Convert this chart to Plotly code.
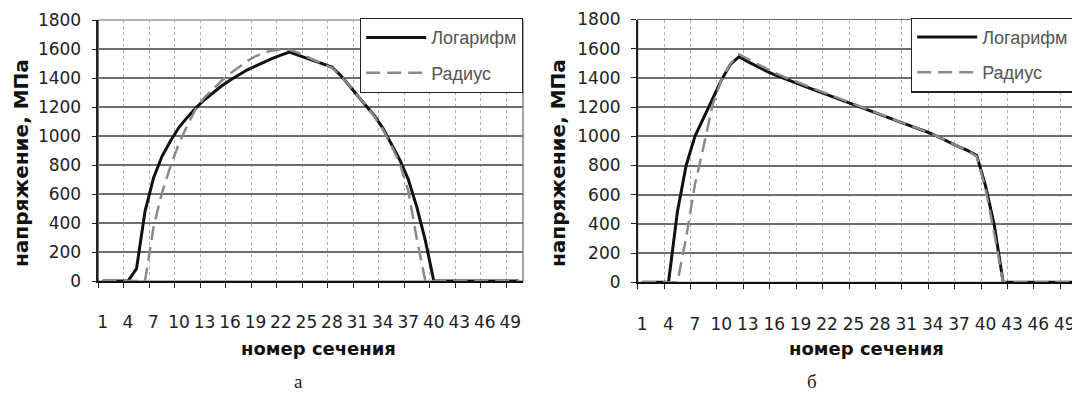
import plotly.graph_objects as go

# ---------------- data ----------------
categories = list(range(1, 51))
tick_categories = categories[::3]
tick_labels = [str(c) for c in tick_categories]

series_names = ["Логарифм", "Радиус"]
panel_labels = ["а", "б"]
y_title = "напряжение, МПа"
x_title = "номер сечения"

# chart "а"
log_a = [0, 0, 0, 0, 85, 480, 710, 860, 965, 1060,
         1130, 1195, 1250, 1300, 1345, 1385, 1420, 1455, 1482, 1510,
         1535, 1558, 1578, 1558, 1538, 1515, 1495, 1475, 1420, 1350,
         1285, 1215, 1140, 1055, 950, 835, 700, 510, 280, 0,
         0, 0, 0, 0, 0, 0, 0, 0, 0, 0]
rad_a = [0, 0, 0, 0, 0, 0, 370, 610, 790, 950,
         1075, 1190, 1265, 1325, 1380, 1430, 1475, 1515, 1550, 1575,
         1590, 1597, 1595, 1575, 1548, 1520, 1495, 1470, 1418, 1350,
         1283, 1212, 1135, 1045, 935, 810, 620, 290, 0, 0,
         0, 0, 0, 0, 0, 0, 0, 0, 0, 0]

# chart "б"
log_b = [0, 0, 0, 0, 480, 800, 1000, 1130, 1260, 1385,
         1490, 1545, 1512, 1480, 1450, 1422, 1398, 1375, 1352, 1330,
         1308, 1285, 1262, 1240, 1218, 1195, 1172, 1150, 1127, 1105,
         1082, 1060, 1038, 1015, 985, 955, 928, 902, 868, 660,
         390, 0, 0, 0, 0, 0, 0, 0, 0, 0]
rad_b = [0, 0, 0, 0, 0, 305, 670, 935, 1215, 1385,
         1495, 1562, 1530, 1498, 1466, 1436, 1410, 1385, 1360, 1338,
         1315, 1292, 1268, 1245, 1222, 1198, 1175, 1152, 1129, 1106,
         1083, 1060, 1038, 1015, 985, 955, 928, 900, 862, 640,
         330, 0, 0, 0, 0, 0, 0, 0, 0, 0]

y_max = 1800
y_step = 200

# ---------------- layout helpers ----------------
# the page body has an 8px default margin, so the figure is drawn at (8, 8)
OFF = 8
W, H = 1080 - OFF, 398 - OFF


def px(x):
    return (x - OFF) / W


def py(y):
    return 1 - (y - OFF) / H


fig = go.Figure()

panels = [(log_a, rad_a), (log_b, rad_b)]
for i, (lg, rd) in enumerate(panels):
    xa = "x" if i == 0 else "x2"
    ya = "y" if i == 0 else "y2"
    leg = "legend" if i == 0 else "legend2"
    fig.add_trace(go.Scatter(
        x=categories, y=lg, name=series_names[0], mode="lines",
        line=dict(color="#111111", width=3),
        xaxis=xa, yaxis=ya, legend=leg, legendgroup=f"log{i}"))
    fig.add_trace(go.Scatter(
        x=categories, y=rd, name=series_names[1], mode="lines",
        line=dict(color="#8a8a8a", width=2.5, dash="14px,7px"),
        xaxis=xa, yaxis=ya, legend=leg, legendgroup=f"rad{i}"))

tick_font = dict(family="DejaVu Sans", size=17, color="#222222")
grid_positions = [c - 0.5 for c in tick_categories]


def xaxis_cfg(domain, anchor):
    return dict(
        domain=domain, anchor=anchor, automargin=False,
        range=[categories[0] - 0.5, categories[-1] + 0.5],
        tickmode="array", tickvals=tick_categories, ticktext=tick_labels,
        tickangle=0, showgrid=False, ticks="", zeroline=False,
        showline=True, linecolor="#111111", linewidth=2,
        tickfont=tick_font, ticklabelstandoff=25, ticklabeloverflow="allow",
        minor=dict(tickmode="array", tickvals=grid_positions,
                   showgrid=True, gridcolor="#b0b0b0", griddash="dot",
                   gridwidth=1, ticks="outside", ticklen=5,
                   tickcolor="#222222", tickwidth=1),
    )


def yaxis_cfg(domain, anchor):
    return dict(
        domain=domain, anchor=anchor, automargin=False,
        range=[0, y_max], dtick=y_step, tick0=0,
        showgrid=True, gridcolor="#6e6e6e", gridwidth=1.6,
        zeroline=False, showline=True, linecolor="#222222", linewidth=1.5,
        ticks="outside", ticklen=5, tickcolor="#222222",
        tickfont=dict(family="DejaVu Sans", size=17, color="#222222"),
        ticklabelstandoff=7, ticklabeloverflow="allow",
    )


legend_font = dict(family="Liberation Sans", size=18, color="#555555")
legend_common = dict(xanchor="right", yanchor="top", bgcolor="white",
                     bordercolor="#222222", borderwidth=1.2,
                     font=legend_font, tracegroupgap=9, itemwidth=60,
                     entrywidth=160, entrywidthmode="pixels")

fig.update_layout(
    width=W, height=H,
    margin=dict(l=0, r=0, t=0, b=0, autoexpand=False),
    paper_bgcolor="white", plot_bgcolor="white",
    xaxis=xaxis_cfg([px(98.3), px(523)], "y"),
    yaxis=yaxis_cfg([py(281), py(20)], "x"),
    xaxis2=xaxis_cfg([px(637.7), px(1078)], "y2"),
    yaxis2=yaxis_cfg([py(282.3), py(19.5)], "x2"),
    legend=dict(x=px(523), y=py(18), **legend_common),
    legend2=dict(x=px(1074), y=py(17.5), **legend_common),
    showlegend=True,
)

# plot-area borders
for xr, yr in [("x domain", "y domain"), ("x2 domain", "y2 domain")]:
    fig.add_shape(type="rect", xref=xr, yref=yr, x0=0, x1=1, y0=0, y1=1,
                  line=dict(color="#666666", width=1.2), layer="below")

title_font_y = dict(family="DejaVu Sans", size=20, color="#111111", weight="bold")
title_font_x = dict(family="DejaVu Sans", size=18, color="#111111", weight="bold")
panel_font = dict(family="Liberation Serif", size=19, color="#222222")

annots = [
    dict(text=y_title, x=px(21), y=py(163), textangle=-90, font=title_font_y),
    dict(text=y_title, x=px(558), y=py(163), textangle=-90, font=title_font_y),
    dict(text=x_title, x=px(318), y=py(348), font=title_font_x),
    dict(text=x_title, x=px(866), y=py(348), font=title_font_x),
    dict(text=panel_labels[0], x=px(298), y=py(381), font=panel_font),
    dict(text=panel_labels[1], x=px(812), y=py(381), font=panel_font),
]
for a in annots:
    fig.add_annotation(xref="paper", yref="paper", showarrow=False,
                       xanchor="center", yanchor="middle", **a)

fig.write_html("out.html")
